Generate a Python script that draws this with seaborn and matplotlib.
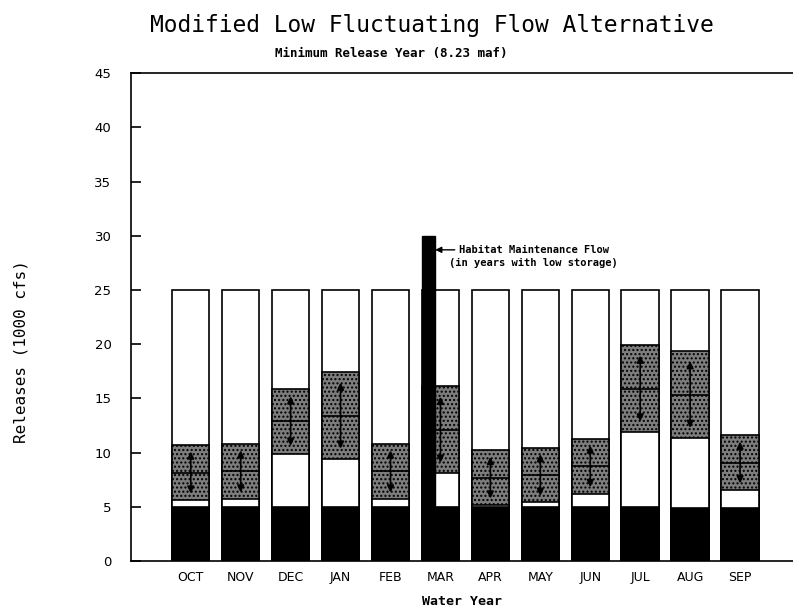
import numpy as np
import pandas as pd
import matplotlib
matplotlib.use("Agg")
import matplotlib.pyplot as plt
import seaborn as sns

months = ["OCT", "NOV", "DEC", "JAN", "FEB", "MAR", "APR", "MAY", "JUN", "JUL", "AUG", "SEP"]
base_flow = [5.0, 5.0, 5.0, 5.0, 5.0, 5.0, 5.0, 5.0, 5.0, 5.0, 4.9, 4.9]
fluct_low = [5.6, 5.7, 9.9, 9.4, 5.7, 8.1, 5.15, 5.4, 6.2, 11.9, 11.3, 6.55]
fluct_high = [10.7, 10.8, 15.9, 17.4, 10.8, 16.1, 10.2, 10.45, 11.25, 19.9, 19.4, 11.6]
max_release = [25, 25, 25, 25, 25, 25, 25, 25, 25, 25, 25, 25]
habitat_month = "MAR"
habitat_flow = 30
yticks = [0, 5, 10, 15, 20, 25, 30, 35, 40, 45]

df = pd.DataFrame({"month": months, "base": base_flow, "low": fluct_low,
                   "high": fluct_high, "max": max_release})

sns.set_style("white")
plt.rcParams["font.family"] = ["DejaVu Sans"]
plt.rcParams["text.color"] = "black"
plt.rcParams["axes.labelcolor"] = "black"
plt.rcParams["xtick.color"] = "black"
plt.rcParams["ytick.color"] = "black"

fig = plt.figure(figsize=(7.93, 6.15), dpi=100)
ax = fig.add_axes([0.165, 0.088, 0.835, 0.793])

W = 0.75
common = dict(data=df, x="month", order=months, width=W, ax=ax, linewidth=1.2,
              edgecolor="black", errorbar=None, saturation=1)
sns.barplot(y="max", color="white", **common)
sns.barplot(y="high", color="#7d7d7d", hatch="....", **common)
sns.barplot(y="low", color="white", **common)
sns.barplot(y="base", color="black", **common)

# midline and arrows in the fluctuation band
for i, (lo, hi) in enumerate(zip(fluct_low, fluct_high)):
    mid = (lo + hi) / 2
    ax.plot([i - W / 2, i + W / 2], [mid, mid], color="black", lw=1.2, zorder=5)
    pad = (hi - lo) * 0.12
    ax.annotate("", xy=(i, hi - pad), xytext=(i, mid), zorder=6,
                arrowprops=dict(arrowstyle="-|>", color="black", lw=1.2,
                                mutation_scale=10, shrinkA=0, shrinkB=0))
    ax.annotate("", xy=(i, lo + pad), xytext=(i, mid), zorder=6,
                arrowprops=dict(arrowstyle="-|>", color="black", lw=1.2,
                                mutation_scale=10, shrinkA=0, shrinkB=0))

# habitat maintenance flow bar
hi_idx = months.index(habitat_month)
hab_w = 0.27
ax.bar(hi_idx - W / 2 + hab_w / 2, habitat_flow, width=hab_w, color="black",
       edgecolor="black", zorder=7)
ax.annotate("Habitat Maintenance Flow", xy=(hi_idx - W / 2 + hab_w, 28.7),
            xytext=(hi_idx + 0.38, 28.7), fontsize=7.5, fontweight="bold",
            family="DejaVu Sans Mono", va="center", ha="left",
            arrowprops=dict(arrowstyle="-|>", color="black", lw=1,
                            mutation_scale=9, shrinkA=1, shrinkB=0))
ax.text(hi_idx + 0.18, 27.5, "(in years with low storage)", fontsize=7.5,
        fontweight="bold", family="DejaVu Sans Mono", va="center", ha="left")

ax.set_xlim(-1.2, 12.06)
ax.set_ylim(0, 45)
ax.set_yticks(yticks)
ax.set_yticklabels([str(t) for t in yticks], fontsize=9.5)
ax.tick_params(axis="y", direction="in", length=7, width=1.2, left=True, pad=14)
ax.tick_params(axis="x", length=0, labelsize=9, pad=7)
for s in ["left", "top", "bottom"]:
    ax.spines[s].set_visible(True)
    ax.spines[s].set_color("black")
    ax.spines[s].set_linewidth(1.2)
ax.spines["right"].set_visible(False)

ax.set_xlabel("Water Year", fontsize=9.5, fontweight="bold",
              family="DejaVu Sans Mono", labelpad=8)
ax.set_ylabel("Releases (1000 cfs)", fontsize=11.5, family="DejaVu Sans Mono")
ax.yaxis.set_label_coords(-0.155, 0.43)

fig.text(0.545, 0.958, "Modified Low Fluctuating Flow Alternative", fontsize=16.5,
         family="DejaVu Sans Mono", ha="center", va="center")
fig.text(0.493, 0.913, "Minimum Release Year (8.23 maf)", fontsize=9,
         fontweight="bold", family="DejaVu Sans Mono", ha="center", va="center")

fig.savefig("out.png", dpi=100, facecolor="white")
